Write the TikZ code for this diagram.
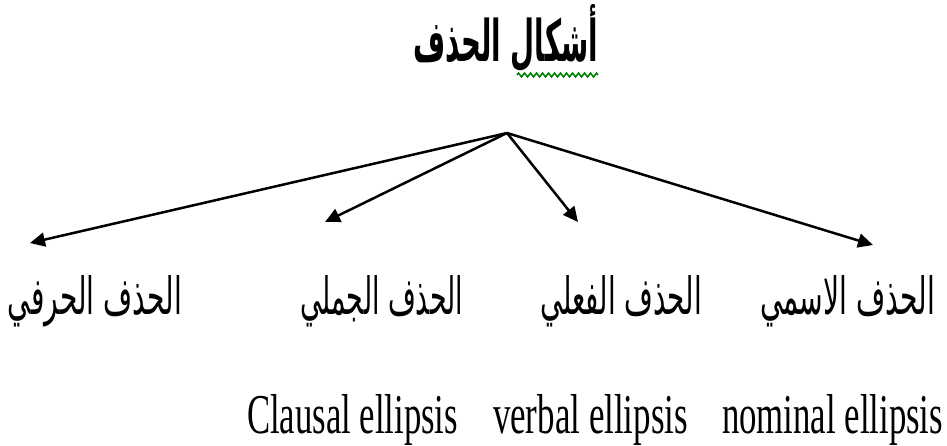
\documentclass[tikz,border=0pt]{standalone}
\usepackage{fontspec}
\usepackage{graphicx}
\setmainfont{Liberation Serif}
\newfontfamily\arabicfont[Script=Arabic]{DejaVu Sans}
\TeXXeTstate=1
\usetikzlibrary{arrows.meta,decorations.pathmorphing}
\newcommand{\fitar}[3]{\resizebox{#1pt}{#2pt}{\arabicfont #3}}
\newcommand{\fiten}[3]{\resizebox{#1pt}{#2pt}{#3}}
\tikzset{
  txt/.style={inner sep=0pt, outer sep=0pt, anchor=base west},
  branch/.style={line width=2.5pt, -{Triangle[length=15pt,width=14pt]}},
  spell/.style={draw=green!50!black, line width=1.5pt, decorate,
    decoration={zigzag, segment length=6pt, amplitude=2pt}}
}
\begin{document}
\begin{tikzpicture}[x=1pt,y=-1pt]
\useasboundingbox (0,0) rectangle (947,446);
\fill[white] (0,0) rectangle (947,446);
% title
\node[txt] (title) at (413,62) {\resizebox{185pt}{57pt}{\arabicfont\bfseries\beginR أشكال الحذف\endR}};
\draw[spell] (517,75) -- (598,75);
% arrows
\coordinate (apex) at (507,133);
\coordinate (t1) at (30,243);
\coordinate (t2) at (325,222);
\coordinate (t3) at (578,222);
\coordinate (t4) at (873,245);
\draw[branch] (apex) -- (t1);
\draw[branch] (apex) -- (t2);
\draw[branch] (apex) -- (t3);
\draw[branch] (apex) -- (t4);
% arabic labels
\node[txt] (a1) at (8,314) {\fitar{174}{39}{\beginR الحذف الحرفي\endR}};
\node[txt] (a2) at (300,314) {\fitar{163}{39}{\beginR الحذف الجملي\endR}};
\node[txt] (a3) at (540,314) {\fitar{162}{39}{\beginR الحذف الفعلي\endR}};
\node[txt] (a4) at (760,314) {\fitar{175}{39}{\beginR الحذف الاسمي\endR}};
% english labels
\node[txt] (e1) at (247,433) {\fiten{211}{39}{Clausal ellipsis}};
\node[txt] (e2) at (493,433) {\fiten{195}{39}{verbal ellipsis}};
\node[txt] (e3) at (722,433) {\fiten{221}{39}{nominal ellipsis}};
\end{tikzpicture}
\end{document}
